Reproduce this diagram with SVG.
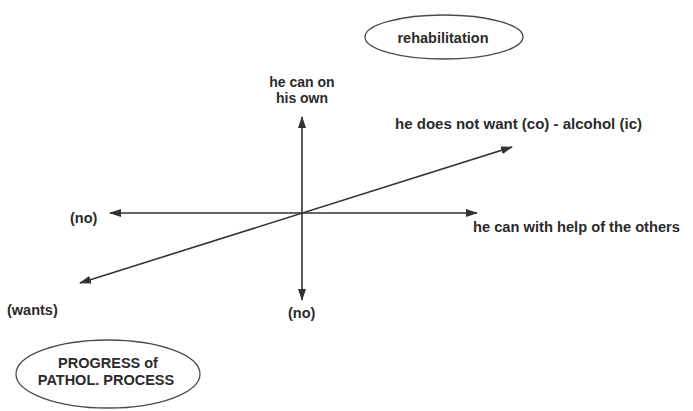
<svg xmlns="http://www.w3.org/2000/svg" width="693" height="411" viewBox="0 0 693 411">
  <style>
    .lbl { font-family: "Liberation Sans", Arial, Helvetica, sans-serif; font-weight: bold; font-size: 14.5px; fill: #2b2b2b; }
    .mid { text-anchor: middle; }
    .oval { fill: none; stroke: #4a4a4a; stroke-width: 1.3; }
    .axis { stroke: #333; stroke-width: 1.6; fill: none; }
  </style>
  <defs>
    <marker id="arrow" viewBox="0 0 12 8" refX="11" refY="4" markerWidth="12" markerHeight="8" markerUnits="userSpaceOnUse" orient="auto-start-reverse">
      <path d="M0,0 L12,4 L0,8 z" fill="#333"/>
    </marker>
  </defs>
  <rect x="0" y="0" width="693" height="411" fill="#ffffff"/>

  <g id="connectors">
    <line class="axis" x1="302" y1="117" x2="302" y2="300" marker-start="url(#arrow)" marker-end="url(#arrow)"/>
    <line class="axis" x1="110" y1="213" x2="477" y2="213" marker-start="url(#arrow)" marker-end="url(#arrow)"/>
    <line class="axis" x1="80" y1="283" x2="512" y2="147" marker-start="url(#arrow)" marker-end="url(#arrow)"/>
  </g>

  <g id="rehabilitation">
    <ellipse class="oval" cx="444" cy="37" rx="79" ry="22"/>
    <text class="lbl mid" x="443" y="43">rehabilitation</text>
  </g>

  <g id="progress">
    <ellipse class="oval" cx="108" cy="374" rx="92" ry="34"/>
    <text class="lbl mid" x="108" y="368">PROGRESS of</text>
    <text class="lbl mid" x="106" y="385">PATHOL. PROCESS</text>
  </g>

  <g id="up-label">
    <text class="lbl mid" x="302" y="87" style="font-size:14px">he can on</text>
    <text class="lbl mid" x="302" y="103" style="font-size:14px">his own</text>
  </g>

  <g id="upper-right-label">
    <text class="lbl" x="395" y="129" textLength="247" lengthAdjust="spacingAndGlyphs">he does not want (co) - alcohol (ic)</text>
  </g>

  <g id="right-label">
    <text class="lbl" x="473" y="232" textLength="207" lengthAdjust="spacingAndGlyphs">he can with help of the others</text>
  </g>

  <g id="left-label">
    <text class="lbl" x="70" y="223">(no)</text>
  </g>

  <g id="lower-left-label">
    <text class="lbl" x="7" y="315">(wants)</text>
  </g>

  <g id="down-label">
    <text class="lbl" x="288" y="318">(no)</text>
  </g>
</svg>
